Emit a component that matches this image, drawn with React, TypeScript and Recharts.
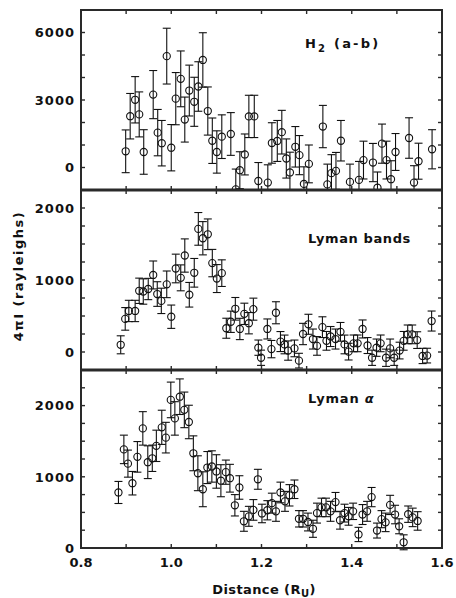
import React from "react";
import { ScatterChart, Scatter, XAxis, YAxis, ErrorBar, ReferenceArea } from "recharts";

const INK = "#111111";
const FRAME = "#2a2a2a";
const FONT = "'DejaVu Sans', Arial, sans-serif";

const xTicks = [0.8, 0.9, 1.0, 1.1, 1.2, 1.3, 1.4, 1.5, 1.6];
const xLabelTicks = [0.8, 1.0, 1.2, 1.4, 1.6];

// H2 (a-b)
const h2X = [0.899, 0.909, 0.92, 0.929, 0.939, 0.96, 0.97, 0.979, 0.99, 1.0, 1.01, 1.021, 1.03, 1.04, 1.051, 1.06, 1.07, 1.081, 1.091, 1.101, 1.112, 1.132, 1.143, 1.152, 1.163, 1.172, 1.184, 1.193, 1.214, 1.223, 1.235, 1.245, 1.255, 1.263, 1.275, 1.284, 1.294, 1.305, 1.336, 1.346, 1.355, 1.365, 1.376, 1.396, 1.416, 1.426, 1.447, 1.457, 1.467, 1.477, 1.487, 1.497, 1.527, 1.538, 1.548, 1.578];
const h2Y = [720, 2280, 3010, 2360, 690, 3240, 1550, 1080, 4950, 880, 3060, 3940, 2130, 3420, 2920, 3600, 4780, 2510, 1190, 690, 1370, 1490, -970, -120, 580, 2270, 2270, -600, -670, 1090, 1180, 1570, 400, -220, 920, 550, -730, 160, 1820, -750, -250, -150, 1190, -640, -550, 330, 220, -900, 1060, 330, -520, 690, 1310, -670, 280, 810];
const h2Err = [950, 1010, 1030, 1000, 990, 1070, 1030, 1010, 1240, 1030, 1160, 1240, 1000, 1130, 1090, 1100, 1210, 1070, 1010, 940, 970, 950, 900, 820, 910, 940, 940, 820, 790, 900, 910, 970, 870, 900, 900, 870, 760, 840, 940, 900, 820, 820, 900, 790, 820, 840, 850, 700, 870, 840, 820, 820, 900, 750, 800, 870];

// Lyman bands
const lbX = [0.888, 0.898, 0.906, 0.92, 0.929, 0.938, 0.949, 0.96, 0.969, 0.978, 0.99, 1.0, 1.01, 1.021, 1.03, 1.04, 1.051, 1.06, 1.07, 1.081, 1.091, 1.101, 1.112, 1.122, 1.132, 1.142, 1.152, 1.162, 1.172, 1.182, 1.193, 1.199, 1.213, 1.222, 1.232, 1.242, 1.251, 1.259, 1.273, 1.283, 1.292, 1.304, 1.314, 1.323, 1.335, 1.344, 1.353, 1.364, 1.375, 1.384, 1.393, 1.404, 1.413, 1.424, 1.435, 1.445, 1.455, 1.464, 1.476, 1.485, 1.494, 1.506, 1.515, 1.524, 1.534, 1.545, 1.557, 1.567, 1.577];
const lbY = [100, 460, 570, 570, 850, 840, 875, 1070, 805, 710, 940, 490, 1160, 1030, 1340, 795, 1100, 1710, 1580, 1635, 1235, 1020, 1095, 330, 420, 600, 320, 530, 400, 595, 60, -80, 320, 40, 545, 145, 105, 20, 50, -120, 250, 385, 180, 85, 345, 155, 215, 180, 280, 105, 5, 120, 120, 320, 90, -80, 60, 120, -80, 50, -80, 20, 155, 245, 245, 165, -55, -50, 430];
const lbErr = [125, 157, 148, 148, 176, 176, 148, 194, 171, 176, 185, 162, 199, 180, 231, 171, 199, 227, 231, 213, 190, 194, 185, 139, 148, 157, 148, 148, 148, 153, 106, 106, 139, 120, 153, 139, 130, 134, 116, 102, 148, 139, 139, 130, 144, 130, 139, 139, 130, 130, 116, 116, 116, 125, 111, 106, 120, 116, 120, 130, 106, 116, 130, 130, 130, 116, 106, 102, 139];

// Lyman alpha
const laX = [0.883, 0.895, 0.904, 0.914, 0.925, 0.937, 0.948, 0.958, 0.967, 0.979, 0.988, 0.999, 1.008, 1.019, 1.029, 1.039, 1.049, 1.059, 1.07, 1.08, 1.09, 1.1, 1.11, 1.121, 1.13, 1.141, 1.151, 1.161, 1.172, 1.182, 1.192, 1.201, 1.213, 1.223, 1.232, 1.242, 1.252, 1.262, 1.273, 1.283, 1.292, 1.303, 1.314, 1.323, 1.333, 1.343, 1.353, 1.364, 1.374, 1.384, 1.393, 1.403, 1.415, 1.424, 1.434, 1.444, 1.456, 1.466, 1.475, 1.485, 1.496, 1.505, 1.515, 1.525, 1.535, 1.546];
const laY = [780, 1385, 1185, 910, 1280, 1680, 1205, 1260, 1435, 1695, 1550, 2080, 1820, 2125, 1940, 1770, 1330, 1050, 825, 1130, 1145, 1075, 945, 1065, 980, 600, 850, 375, 445, 535, 965, 485, 530, 630, 515, 780, 655, 740, 825, 410, 410, 365, 270, 490, 570, 570, 515, 645, 390, 490, 445, 515, 190, 470, 515, 715, 245, 405, 360, 605, 470, 305, 80, 475, 430, 380];
const laErr = [155, 200, 190, 165, 215, 235, 230, 185, 220, 240, 215, 250, 235, 250, 250, 235, 245, 245, 245, 225, 220, 235, 225, 170, 195, 150, 165, 140, 140, 145, 140, 130, 135, 140, 140, 145, 140, 150, 130, 115, 115, 125, 120, 140, 130, 130, 140, 135, 125, 125, 125, 115, 100, 140, 140, 135, 105, 120, 130, 135, 130, 105, 105, 115, 130, 130];

const h2Ticks = [-1000, 0, 1000, 2000, 3000, 4000, 5000, 6000, 7000];
const h2Labels = [0, 3000, 6000];
const lyTicksB = [-250, 0, 250, 500, 750, 1000, 1250, 1500, 1750, 2000, 2250];
const lyTicksA = [0, 250, 500, 750, 1000, 1250, 1500, 1750, 2000, 2250, 2500];
const lyLabels = [0, 1000, 2000];

const zip = (xs: number[], ys: number[], es: number[]) =>
  xs.map((x, i) => ({ x, y: ys[i], err: es[i] }));

const Ring = (p: any) => (
  <circle cx={p.cx} cy={p.cy} r={3.6} fill="none" stroke={INK} strokeWidth={1.1} />
);
const Nothing = () => <g />;

const tickText = { fontFamily: FONT, fontWeight: 700, fontSize: 13, fill: INK };
const TICK_W = 1.4;

// ticks point inward; only some carry a label
const leftTick = (labels: number[]) => (p: any) => {
  const v = p.payload.value;
  return (
    <g>
      <line x1={p.x} y1={p.y} x2={p.x + 4} y2={p.y} stroke={FRAME} strokeWidth={TICK_W} />
      {labels.includes(v) && (
        <text {...tickText} x={p.x - 6} y={p.y} dy="0.37em" textAnchor="end" letterSpacing={1}>
          {v}
        </text>
      )}
    </g>
  );
};
const rightTick = (p: any) => (
  <line x1={p.x - 4} y1={p.y} x2={p.x} y2={p.y} stroke={FRAME} strokeWidth={TICK_W} />
);
const topTick = (p: any) => (
  <line x1={p.x} y1={p.y} x2={p.x} y2={p.y + 4} stroke={FRAME} strokeWidth={TICK_W} />
);
const bottomTick = (labels: number[]) => (p: any) => {
  const v = p.payload.value;
  return (
    <g>
      <line x1={p.x} y1={p.y} x2={p.x} y2={p.y - 4} stroke={FRAME} strokeWidth={TICK_W} />
      {labels.includes(v) && (
        <text {...tickText} x={p.x} y={p.y + 19} textAnchor="middle">
          {v.toFixed(1)}
        </text>
      )}
    </g>
  );
};

interface PanelProps {
  data: { x: number; y: number; err: number }[];
  yDomain: [number, number];
  yTicks: number[];
  yLabels: number[];
  top: number;
  height: number;
  marginTop: number;
  topW: number;
  bottomW: number;
  xLabels?: boolean;
}

function Panel({ data, yDomain, yTicks, yLabels, top, height, marginTop, topW, bottomW, xLabels }: PanelProps) {
  return (
    <div style={{ position: "absolute", left: 0, top }}>
      <ScatterChart width={456} height={height} margin={{ top: marginTop, right: 13, bottom: 0, left: 0 }}>
        <XAxis
          xAxisId="b"
          type="number"
          dataKey="x"
          domain={[0.8, 1.6]}
          allowDataOverflow
          ticks={xTicks}
          interval={0}
          orientation="bottom"
          height={xLabels ? 50 : 1}
          tickSize={0}
          tickMargin={0}
          tickLine={false}
          tick={bottomTick(xLabels ? xLabelTicks : [])}
          axisLine={{ stroke: FRAME, strokeWidth: bottomW }}
        />
        <XAxis
          xAxisId="t"
          type="number"
          dataKey="x"
          domain={[0.8, 1.6]}
          allowDataOverflow
          ticks={xTicks}
          interval={0}
          orientation="top"
          height={1}
          tickSize={0}
          tickMargin={0}
          tickLine={false}
          tick={topTick}
          axisLine={{ stroke: FRAME, strokeWidth: topW }}
        />
        <YAxis
          yAxisId="l"
          type="number"
          dataKey="y"
          domain={yDomain}
          allowDataOverflow
          ticks={yTicks}
          interval={0}
          orientation="left"
          width={81}
          tickSize={0}
          tickMargin={0}
          tickLine={false}
          tick={leftTick(yLabels)}
          axisLine={{ stroke: FRAME, strokeWidth: 2 }}
        />
        <YAxis
          yAxisId="r"
          type="number"
          dataKey="y"
          domain={yDomain}
          allowDataOverflow
          ticks={yTicks}
          interval={0}
          orientation="right"
          width={1}
          tickSize={0}
          tickMargin={0}
          tickLine={false}
          tick={rightTick}
          axisLine={{ stroke: FRAME, strokeWidth: 2 }}
        />
        {/* panel frame */}
        <ReferenceArea
          xAxisId="b"
          yAxisId="l"
          x1={0.8}
          x2={1.6}
          y1={yDomain[0]}
          y2={yDomain[1]}
          fill="none"
          fillOpacity={0}
          stroke={FRAME}
          strokeWidth={2}
          ifOverflow="visible"
        />
        <Scatter data={data} xAxisId="t" yAxisId="r" shape={Nothing} isAnimationActive={false} />
        <Scatter data={data} xAxisId="b" yAxisId="l" shape={Ring} isAnimationActive={false}>
          <ErrorBar dataKey="err" direction="y" width={4} stroke={INK} strokeWidth={1.1} isAnimationActive={false} />
        </Scatter>
      </ScatterChart>
    </div>
  );
}

export default function App() {
  const txt = { fontFamily: FONT, fontWeight: 700, fontSize: 13, fill: INK };
  return (
    <div style={{ position: "absolute", left: 0, top: 0, width: 456, height: 598, background: "#fff" }}>
      <Panel data={zip(h2X, h2Y, h2Err)} yDomain={[-1000, 7000]} yTicks={h2Ticks} yLabels={h2Labels}
        top={0} height={191} marginTop={9} topW={2} bottomW={3} />
      <Panel data={zip(lbX, lbY, lbErr)} yDomain={[-250, 2250]} yTicks={lyTicksB} yLabels={lyLabels}
        top={189} height={182} marginTop={0} topW={3} bottomW={3} />
      <Panel data={zip(laX, laY, laErr)} yDomain={[0, 2500]} yTicks={lyTicksA} yLabels={lyLabels}
        top={369} height={229} marginTop={0} topW={3} bottomW={2} xLabels />
      <svg width={456} height={598} style={{ position: "absolute", left: 0, top: 0, pointerEvents: "none" }}>
        <text {...txt} x={305} y={48} letterSpacing={2.2}>
          H<tspan fontSize={10} dy={4}>2</tspan>
          <tspan dy={-4}> (a-b)</tspan>
        </text>
        <text {...txt} x={308} y={243} letterSpacing={0.6}>Lyman bands</text>
        <text {...txt} x={308} y={403} letterSpacing={0.8}>
          Lyman <tspan fontStyle="italic">α</tspan>
        </text>
        <text {...txt} x={264} y={594} textAnchor="middle" letterSpacing={0.4}>
          Distance (R<tspan fontSize={10} dy={3}>U</tspan>
          <tspan dy={-3}>)</tspan>
        </text>
        <text {...txt} x={18} y={276} textAnchor="middle" dominantBaseline="central"
          letterSpacing={1.5} transform="rotate(-90 18 276)">
          4πI (rayleighs)
        </text>
      </svg>
    </div>
  );
}
